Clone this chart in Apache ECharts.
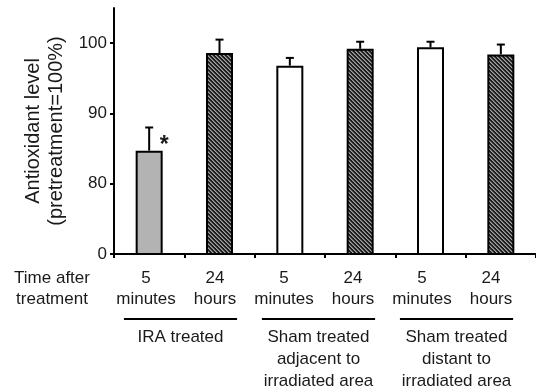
<!DOCTYPE html>
<html><head><meta charset="utf-8">
<script src="https://cdn.jsdelivr.net/npm/echarts@6/dist/echarts.min.js"></script>
<style>html,body{margin:0;padding:0;background:#fff}#c{width:536px;height:392px}</style>
</head><body><div id="c"></div>
<script>
const categories = ['5\nminutes', '24\nhours', '5\nminutes', '24\nhours', '5\nminutes', '24\nhours'];
const values = [84.7, 98.6, 96.8, 99.2, 99.4, 98.4];
const errorTops = [88.0, 100.5, 97.9, 100.2, 100.2, 99.8];
const fillTypes = ['gray', 'hatch', 'white', 'hatch', 'white', 'hatch'];
const significance = ['*', '', '', '', '', ''];
const groups = ['IRA treated', 'Sham treated\nadjacent to\nirradiated area', 'Sham treated\ndistant to\nirradiated area'];
const yTicks = [70, 80, 90, 100];
const yTickLabels = ['0', '80', '90', '100'];
const xTitle = 'Time after\ntreatment';
const yTitle = 'Antioxidant level\n(pretreatment=100%)';

const FONT = '"Liberation Sans", Arial, Helvetica, sans-serif';
const TXT = '#1a1a1a';

function hatch() {
  const c = document.createElement('canvas');
  c.width = 4; c.height = 4;
  const g = c.getContext('2d');
  g.fillStyle = '#1c1c1c'; g.fillRect(0, 0, 4, 4);
  g.fillStyle = '#a4a4a4';
  for (let i = 0; i < 4; i++) { g.fillRect(i, i, 1, 1); }
  g.fillStyle = '#6a6a6a';
  for (let i = 0; i < 4; i++) { g.fillRect((i + 1) % 4, i, 1, 1); }
  return c;
}
const hatchCanvas = hatch();
const fills = {
  gray: '#b3b3b3',
  white: '#ffffff',
  hatch: { image: hatchCanvas, repeat: 'repeat' }
};

const chart = echarts.init(document.getElementById('c'), null, { renderer: 'canvas' });

const option = {
  backgroundColor: '#fff',
  animation: false,
  grid: [
    { left: 114, width: 425, top: 8, height: 246 },
    { left: 111.5, width: 414, top: 8, height: 246 }
  ],
  xAxis: [
    {
      type: 'category', gridIndex: 0, position: 'bottom', data: categories,
      axisLine: { lineStyle: { color: '#000', width: 2 } },
      axisTick: { show: true, inside: false, length: 4, lineStyle: { color: '#000', width: 2 } },
      axisLabel: { show: false }
    },
    {
      type: 'category', gridIndex: 1, position: 'bottom', data: categories,
      axisLine: { show: false }, axisTick: { show: false },
      axisLabel: { margin: 13.5, fontFamily: FONT, fontSize: 17, color: TXT, lineHeight: 21, verticalAlign: 'top', interval: 0 }
    },
    {
      type: 'category', gridIndex: 1, position: 'bottom', offset: 0, data: groups,
      axisLine: { show: false }, axisTick: { show: false },
      axisLabel: { margin: 72, fontFamily: FONT, fontSize: 17, color: TXT, lineHeight: 22, verticalAlign: 'top', interval: 0 }
    }
  ],
  yAxis: [
    {
      type: 'value', gridIndex: 0, min: 70, max: 105, interval: 10,
      splitLine: { show: false },
      axisLine: { show: true, lineStyle: { color: '#000', width: 2 } },
      axisTick: { show: true, length: 4, customValues: yTicks, lineStyle: { color: '#000', width: 2 } },
      axisLabel: {
        customValues: yTicks, margin: 7, fontFamily: FONT, fontSize: 17, color: TXT,
        formatter: v => { const i = yTicks.indexOf(v); return i >= 0 ? yTickLabels[i] : ''; }
      },
      name: yTitle, nameLocation: 'middle', nameGap: 37, nameRotate: 90,
      nameTextStyle: { fontFamily: FONT, fontSize: 20, color: TXT, lineHeight: 23 }
    },
    { type: 'value', gridIndex: 1, min: 70, max: 105, show: false }
  ],
  series: [
    {
      type: 'bar', xAxisIndex: 0, yAxisIndex: 0, barWidth: 27, z: 3,
      data: values.map((v, i) => ({
        value: v,
        itemStyle: { color: fills[fillTypes[i]], borderColor: '#000', borderWidth: 2 },
        label: significance[i] ? {
          show: true, formatter: significance[i], position: ['100%', -5], offset: [-3, 0],
          align: 'left', verticalAlign: 'middle', fontFamily: FONT, fontSize: 23, fontWeight: 'bold', color: TXT
        } : { show: false }
      }))
    },
    {
      type: 'custom', xAxisIndex: 0, yAxisIndex: 0, z: 2,
      data: values.map((v, i) => [i, v, errorTops[i]]),
      renderItem: function (params, api) {
        const b = api.coord([api.value(0), api.value(1)]);
        const t = api.coord([api.value(0), api.value(2)]);
        return {
          type: 'group', children: [
            { type: 'line', shape: { x1: b[0], y1: b[1], x2: t[0], y2: t[1] }, style: { stroke: '#000', lineWidth: 2 } },
            { type: 'line', shape: { x1: t[0] - 4, y1: t[1], x2: t[0] + 4, y2: t[1] }, style: { stroke: '#000', lineWidth: 2 } }
          ]
        };
      }
    }
  ]
};
chart.setOption(option);

// group underlines and the left-hand x title
const gridRect = chart.getModel().getComponent('grid', 1).coordinateSystem.getRect();
const band = gridRect.width / groups.length;
const lineY = gridRect.y + gridRect.height + 65;
const graphics = groups.map((g, i) => {
  const cx = chart.convertToPixel({ xAxisIndex: 2 }, g);
  return {
    type: 'line', shape: { x1: cx - band * 0.41, y1: lineY, x2: cx + band * 0.41, y2: lineY },
    style: { stroke: '#000', lineWidth: 2 }
  };
});
graphics.push({
  type: 'text', x: 52, y: gridRect.y + gridRect.height + 13.5,
  style: { text: xTitle, font: '17px ' + FONT, fill: TXT, lineHeight: 21, align: 'center', verticalAlign: 'top' }
});
chart.setOption({ graphic: graphics });
</script>
</body></html>
